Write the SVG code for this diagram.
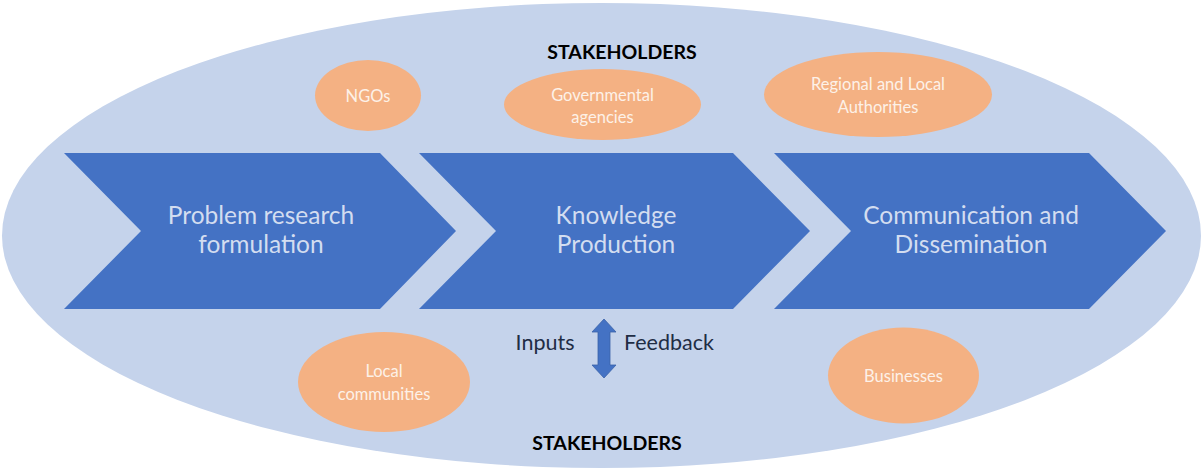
<svg xmlns="http://www.w3.org/2000/svg" width="1203" height="471" viewBox="0 0 1203 471">
<defs>
<style>
.bg{fill:#C5D3EB}
.chev{fill:#4472C4}
.stk{fill:#F4B183}
.ct{font-family:Lato,"Open Sans",sans-serif;font-size:24.5px;fill:#D3DDF0;text-anchor:middle}
.ot{font-family:Lato,"Open Sans",sans-serif;font-size:16.5px;fill:#FDF1E8;text-anchor:middle}
.hd{font-family:Lato,"Open Sans",sans-serif;font-size:19.5px;font-weight:bold;fill:#000;text-anchor:middle}
.lb{font-family:Lato,"Open Sans",sans-serif;font-size:21.5px;fill:#1F2D45;text-anchor:middle}
</style>
</defs>
<rect width="1203" height="471" fill="#fff"/>
<g id="stakeholders-area">
<ellipse class="bg" cx="601.5" cy="235.5" rx="599.5" ry="232.5"/>
<text class="hd" x="622" y="59">STAKEHOLDERS</text>
<text class="hd" x="607" y="450">STAKEHOLDERS</text>
</g>
<g id="step-problem">
<polygon class="chev" points="64,153 380,153 456,231 380,309 64,309 141,231"/>
<text class="ct" x="261" y="224">Problem research</text>
<text class="ct" x="261" y="253">formulation</text>
</g>
<g id="step-knowledge">
<polygon class="chev" points="419,153 733,153 810,231 733,309 419,309 496,231"/>
<text class="ct" x="616" y="224">Knowledge</text>
<text class="ct" x="616" y="253">Production</text>
</g>
<g id="step-communication">
<polygon class="chev" points="774,153 1089,153 1166,231 1089,309 774,309 851,231"/>
<text class="ct" x="971" y="224">Communication and</text>
<text class="ct" x="971" y="253">Dissemination</text>
</g>
<g id="ngos">
<ellipse class="stk" cx="368" cy="95.5" rx="53" ry="35.5"/>
<text class="ot" x="368" y="101.5">NGOs</text>
</g>
<g id="governmental">
<ellipse class="stk" cx="602.5" cy="104.5" rx="98.5" ry="35.5"/>
<text class="ot" x="602.5" y="100.5">Governmental</text>
<text class="ot" x="602.5" y="123">agencies</text>
</g>
<g id="regional">
<ellipse class="stk" cx="878" cy="94.5" rx="114" ry="42.5"/>
<text class="ot" x="878" y="90">Regional and Local</text>
<text class="ot" x="878" y="112.5">Authorities</text>
</g>
<g id="local-communities">
<ellipse class="stk" cx="384" cy="382" rx="86" ry="50"/>
<text class="ot" x="384" y="377">Local</text>
<text class="ot" x="384" y="399.5">communities</text>
</g>
<g id="businesses">
<ellipse class="stk" cx="903.5" cy="375.5" rx="75.5" ry="48"/>
<text class="ot" x="903.5" y="381.5">Businesses</text>
</g>
<g id="connectors">
<polygon fill="#4472C4" stroke="#3A62A8" stroke-width="0.8" points="604,319 616,332 610,332 610,365 616,365 604,378 592,365 598,365 598,332 592,332"/>
<text class="lb" x="545" y="350">Inputs</text>
<text class="lb" x="669" y="350">Feedback</text>
</g>
</svg>
